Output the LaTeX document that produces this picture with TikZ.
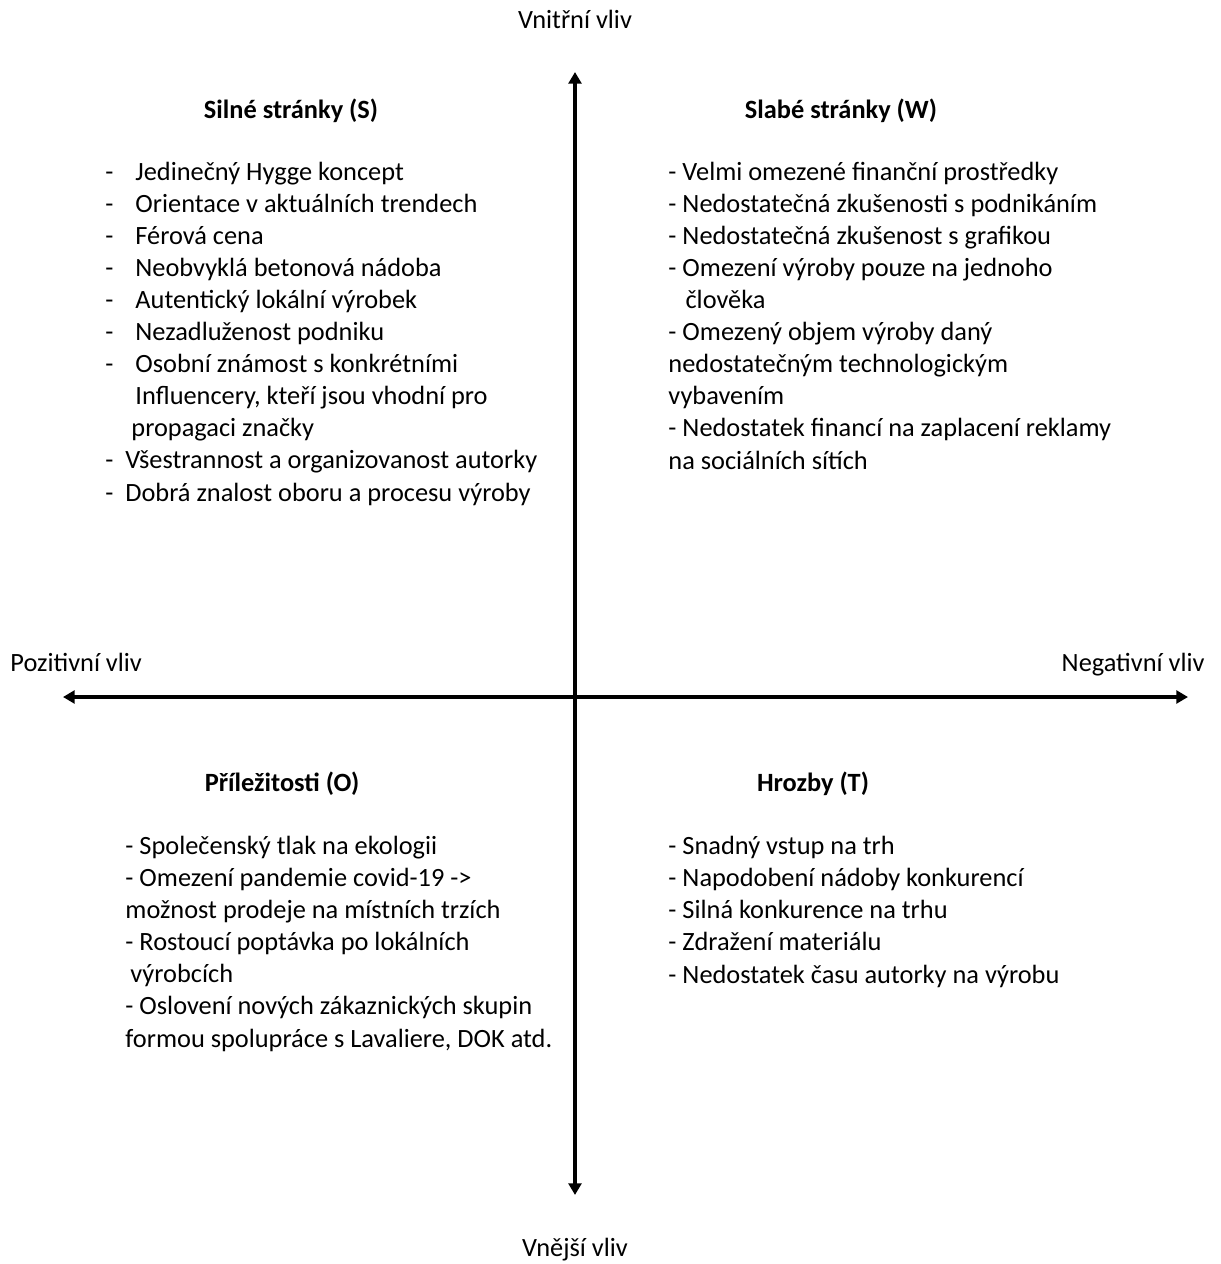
\documentclass[tikz,border=0pt]{standalone}
\usepackage{fontspec}
\setmainfont{Carlito}
\usetikzlibrary{arrows.meta}

\tikzset{
  axis/.style={line width=1.3pt, {Triangle[length=5pt,width=5.5pt]}-{Triangle[length=5pt,width=5.5pt]}},
  lbl/.style={inner sep=0pt, font=\fontsize{11.25pt}{13.7pt}\selectfont},
  head/.style={lbl, font=\fontsize{11.25pt}{13.7pt}\selectfont\bfseries},
  list/.style={lbl, align=left, anchor=base west}
}
\newcommand{\itm}[1]{\makebox[#1][l]{-}}

\begin{document}
\begin{tikzpicture}[x=0.015cm, y=-0.015cm]
  \useasboundingbox (0,0) rectangle (1221,1264);

  % axes
  \coordinate (in) at (575,72);
  \coordinate (out) at (575,1195);
  \coordinate (pos) at (63,697);
  \coordinate (neg) at (1188,697);
  \draw[axis] (out) -- (in);
  \draw[axis] (pos) -- (neg);

  \node[lbl, anchor=base] (vnitrni) at (575,28) {Vnitřní vliv};
  \node[lbl, anchor=base] (vnejsi) at (575,1256) {Vnější vliv};
  \node[lbl, anchor=base west] (pozitivni) at (10,671) {Pozitivní vliv};
  \node[lbl, anchor=base east] (negativni) at (1205,671) {Negativní vliv};

  % headings
  \node[head, anchor=base] (S) at (291,118) {Silné stránky (S)};
  \node[head, anchor=base] (W) at (841,118) {Slabé stránky (W)};
  \node[head, anchor=base] (O) at (282,791) {Příležitosti (O)};
  \node[head, anchor=base] (T) at (813,791) {Hrozby (T)};

  % lists (placed at the baseline of their last line)
  \node[list] (Slist) at (105,501) {%
    \itm{12.8pt}Jedinečný Hygge koncept\\
    \itm{12.8pt}Orientace v aktuálních trendech\\
    \itm{12.8pt}Férová cena\\
    \itm{12.8pt}Neobvyklá betonová nádoba\\
    \itm{12.8pt}Autentický lokální výrobek\\
    \itm{12.8pt}Nezadluženost podniku\\
    \itm{12.8pt}Osobní známost s konkrétními\\
    \hspace*{12.8pt}Influencery, kteří jsou vhodní pro\\
    \hspace*{11.1pt}propagaci značky\\
    \itm{8.5pt}Všestrannost a organizovanost autorky\\
    \itm{8.5pt}Dobrá znalost oboru a procesu výroby};

  \node[list] (Wlist) at (668,469) {%
    - Velmi omezené finanční prostředky\\
    - Nedostatečná zkušenosti s podnikáním\\
    - Nedostatečná zkušenost s grafikou\\
    - Omezení výroby pouze na jednoho\\
    \hspace*{7.3pt}člověka\\
    - Omezený objem výroby daný\\
    nedostatečným technologickým\\
    vybavením\\
    - Nedostatek financí na zaplacení reklamy\\
    na sociálních sítích};

  \node[list] (Olist) at (125,1047) {%
    - Společenský tlak na ekologii\\
    - Omezení pandemie covid-19 ->\\
    možnost prodeje na místních trzích\\
    - Rostoucí poptávka po lokálních\\
    \hspace*{2.1pt}výrobcích\\
    - Oslovení nových zákaznických skupin\\
    formou spolupráce s Lavaliere, DOK atd.};

  \node[list] (Tlist) at (668,983) {%
    - Snadný vstup na trh\\
    - Napodobení nádoby konkurencí\\
    - Silná konkurence na trhu\\
    - Zdražení materiálu\\
    - Nedostatek času autorky na výrobu};
\end{tikzpicture}
\end{document}
